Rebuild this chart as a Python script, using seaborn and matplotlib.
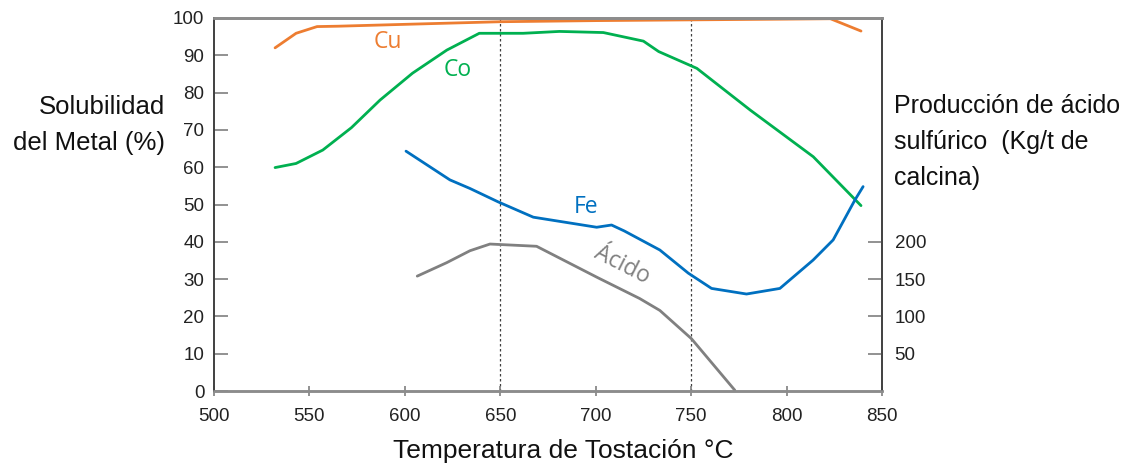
import matplotlib
matplotlib.use("Agg")
import matplotlib.pyplot as plt
import seaborn as sns
import pandas as pd

# ---- data ----
cu_temp = [532, 543, 554, 565, 600, 650, 700, 750, 800, 823, 839]
cu_sol = [92.0, 95.9, 97.7, 97.8, 98.3, 99.0, 99.3, 99.5, 99.7, 99.8, 96.5]

co_temp = [532, 543, 557, 572, 587, 604, 622, 639, 662, 681, 704, 725, 733, 753, 781, 814, 839]
co_sol = [59.9, 61.0, 64.6, 70.6, 78.0, 85.2, 91.4, 95.9, 95.9, 96.4, 96.1, 93.8, 91.0, 86.5, 75.3, 62.8, 49.7]

fe_temp = [600.6, 623.6, 634.1, 648.9, 667.3, 700.5, 708.3, 715, 733.6, 748.5, 760.7, 779, 796.5, 813.9, 824.4, 835.8, 840.1]
fe_sol = [64.3, 56.6, 54.3, 50.7, 46.6, 43.9, 44.5, 42.9, 37.8, 31.6, 27.5, 26.0, 27.5, 35.1, 40.5, 51.2, 54.8]

acid_temp = [606.5, 621.9, 634.1, 644.6, 669, 701, 723, 733.6, 750.2, 772.9]
acid_prod = [154, 172, 188, 197, 194, 152, 124, 108, 70, 1]

x_ticks = [500, 550, 600, 650, 700, 750, 800, 850]
left_ticks = [0, 10, 20, 30, 40, 50, 60, 70, 80, 90, 100]
right_ticks = [50, 100, 150, 200]
ref_lines = [650, 750]

series_labels = ["Cu", "Co", "Fe", "Ácido"]

# ---- style ----
sns.set_theme(style="white")
plt.rcParams['font.family'] = ['Liberation Sans', 'DejaVu Sans']

C_CU = "#ED7D31"
C_CO = "#00B050"
C_FE = "#0070C0"
C_AC = "#808080"

fig = plt.figure(figsize=(11.43, 4.66), dpi=100)
ax = fig.add_axes([214 / 1143, 75 / 466, (882 - 214) / 1143, (391 - 18) / 466])
ax2 = ax.twinx()

df_cu = pd.DataFrame({"T": cu_temp, "v": cu_sol})
df_co = pd.DataFrame({"T": co_temp, "v": co_sol})
df_fe = pd.DataFrame({"T": fe_temp, "v": fe_sol})
df_ac = pd.DataFrame({"T": acid_temp, "v": acid_prod})

lw = 2.0
sns.lineplot(data=df_cu, x="T", y="v", ax=ax, color=C_CU, lw=lw, sort=False)
sns.lineplot(data=df_co, x="T", y="v", ax=ax, color=C_CO, lw=lw, sort=False)
sns.lineplot(data=df_fe, x="T", y="v", ax=ax, color=C_FE, lw=lw, sort=False)
sns.lineplot(data=df_ac, x="T", y="v", ax=ax2, color=C_AC, lw=lw, sort=False)

for xv in ref_lines:
    ax.axvline(xv, color="#404040", lw=0.9, ls=(0, (2, 2)), zorder=0)

ax.set_xlim(500, 850)
ax.set_ylim(0, 100)
ax2.set_ylim(0, 500)

ax.set_xticks(x_ticks)
ax.set_yticks(left_ticks)
ax2.set_yticks(right_ticks)
ax.set_xlabel("")
ax.set_ylabel("")
ax2.set_ylabel("")

tick_col = "#7F7F7F"
ax.tick_params(axis="y", direction="in", length=10, width=1.2, color=tick_col,
               labelsize=13.5, pad=7, left=True, labelcolor="#222222")
ax.tick_params(axis="x", direction="inout", length=7, width=1.2, color=tick_col,
               labelsize=13.5, pad=9, bottom=True, labelcolor="#222222")
ax2.tick_params(axis="y", direction="in", length=10, width=1.2, color=tick_col,
                labelsize=13.5, pad=9, right=True, labelcolor="#222222")

for a in (ax, ax2):
    a.spines["top"].set_color("#8C8C8C")
    a.spines["top"].set_linewidth(2.0)
    a.spines["bottom"].set_color("#8C8C8C")
    a.spines["bottom"].set_linewidth(1.8)
    a.spines["left"].set_color("#404040")
    a.spines["left"].set_linewidth(1.2)
    a.spines["right"].set_color("#404040")
    a.spines["right"].set_linewidth(1.2)

# series labels
lab_font = ['Open Sans', 'DejaVu Sans']
fs_lab = 16.5
ax.text(591.0, 93.6, series_labels[0], color=C_CU, fontsize=fs_lab, family=lab_font, ha="center", va="center")
ax.text(627.8, 86.0, series_labels[1], color=C_CO, fontsize=fs_lab, family=lab_font, ha="center", va="center")
ax.text(694.9, 49.3, series_labels[2], color=C_FE, fontsize=fs_lab, family=lab_font, ha="center", va="center")
ax.text(713.6, 33.8, series_labels[3], color=C_AC, fontsize=fs_lab, family=lab_font, ha="center", va="center",
        rotation=-27, rotation_mode="anchor")

# axis titles
fig.text(165 / 1143, 1 - 125 / 466, "Solubilidad\ndel Metal (%)", ha="right", va="center",
         fontsize=18.5, linespacing=1.62, color="#111111")
fig.text(894 / 1143, 1 - 142 / 466, "Producción de ácido\nsulfúrico  (Kg/t de\ncalcina)", ha="left",
         va="center", fontsize=18, linespacing=1.65, color="#111111")
fig.text(563 / 1143, 1 - 451 / 466, "Temperatura de Tostación °C", ha="center", va="center",
         fontsize=19, color="#111111")

fig.savefig("out.png", dpi=100)
